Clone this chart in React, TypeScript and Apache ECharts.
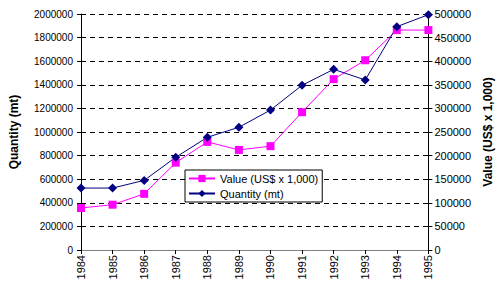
import React, { useEffect, useRef } from "react";
import * as echarts from "echarts";

const years = ["1984", "1985", "1986", "1987", "1988", "1989", "1990", "1991", "1992", "1993", "1994", "1995"];
const quantityMt = [525000, 525000, 590000, 786000, 955000, 1040000, 1186000, 1396000, 1531000, 1441000, 1893000, 1994000];
const valueUsd = [89000, 96000, 119000, 185000, 229000, 212000, 220000, 292000, 362000, 402000, 466000, 466000];

const FONT = "Arial, 'Liberation Sans', sans-serif";

export default function App() {
  const ref = useRef<HTMLDivElement>(null);
  useEffect(() => {
    if (!ref.current) return;
    const chart = echarts.init(ref.current, undefined, { renderer: "svg" });
    chart.setOption({
      animation: false,
      backgroundColor: "#ffffff",
      textStyle: { fontFamily: FONT, color: "#000" },
      grid: { left: 71, right: 72, top: 14, bottom: 37, containLabel: false },
      legend: {
        orient: "vertical",
        left: 185,
        top: 170,
        data: ["Value (US$ x 1,000)", "Quantity (mt)"],
        backgroundColor: "#fff",
        borderColor: "#000",
        borderWidth: 1,
        borderRadius: 0,
        padding: [3, 4, 3, 3],
        itemGap: 4,
        itemWidth: 26,
        itemHeight: 9,
        textStyle: { fontSize: 11, fontFamily: FONT, color: "#000" },
      },
      xAxis: [
        {
          type: "category",
          data: years,
          boundaryGap: false,
          axisLine: { lineStyle: { color: "#000", width: 1 } },
          axisTick: { show: true, length: 4, lineStyle: { color: "#000" } },
          axisLabel: { rotate: 90, fontSize: 11, margin: 5, color: "#000", fontFamily: FONT },
          splitLine: { show: false },
        },
        {
          type: "category",
          data: years,
          position: "top",
          boundaryGap: false,
          axisLine: { lineStyle: { color: "#808080", width: 1 } },
          axisTick: { show: false },
          axisLabel: { show: false },
          splitLine: { show: false },
        },
      ],
      yAxis: [
        {
          type: "value",
          min: 0,
          max: 2000000,
          interval: 200000,
          position: "left",
          name: "Quantity (mt)",
          nameLocation: "middle",
          nameRotate: 90,
          nameGap: 61,
          nameTextStyle: { fontSize: 12, fontWeight: "bold", fontFamily: FONT, color: "#000" },
          axisLine: { show: true, lineStyle: { color: "#000", width: 1 } },
          axisTick: { show: true, length: 4, lineStyle: { color: "#000" } },
          axisLabel: { fontSize: 10, margin: 8, color: "#000", fontFamily: FONT, formatter: (v: number) => String(v) },
          splitLine: { show: true, lineStyle: { color: "#000", type: [5, 4], width: 1 } },
        },
        {
          type: "value",
          min: 0,
          max: 500000,
          interval: 50000,
          position: "right",
          name: "Value (US$ x 1,000)",
          nameLocation: "middle",
          nameRotate: 90,
          nameGap: 43,
          nameTextStyle: { fontSize: 12, fontWeight: "bold", fontFamily: FONT, color: "#000" },
          axisLine: { show: true, lineStyle: { color: "#000", width: 1 } },
          axisTick: { show: true, length: 4, lineStyle: { color: "#000" } },
          axisLabel: { fontSize: 11, margin: 6, color: "#000", fontFamily: FONT, formatter: (v: number) => String(v) },
          splitLine: { show: false },
        },
      ],
      series: [
        {
          name: "Value (US$ x 1,000)",
          type: "line",
          yAxisIndex: 1,
          data: valueUsd,
          symbol: "rect",
          symbolSize: 8,
          itemStyle: { color: "#ff00ff" },
          lineStyle: { color: "#ff00ff", width: 1 },
        },
        {
          name: "Quantity (mt)",
          type: "line",
          yAxisIndex: 0,
          data: quantityMt,
          symbol: "diamond",
          symbolSize: 9,
          itemStyle: { color: "#000080" },
          lineStyle: { color: "#000080", width: 1 },
        },
      ],
    });
    return () => chart.dispose();
  }, []);
  return <div ref={ref} style={{ position: "absolute", left: 0, top: 0, width: 502, height: 287 }} />;
}
